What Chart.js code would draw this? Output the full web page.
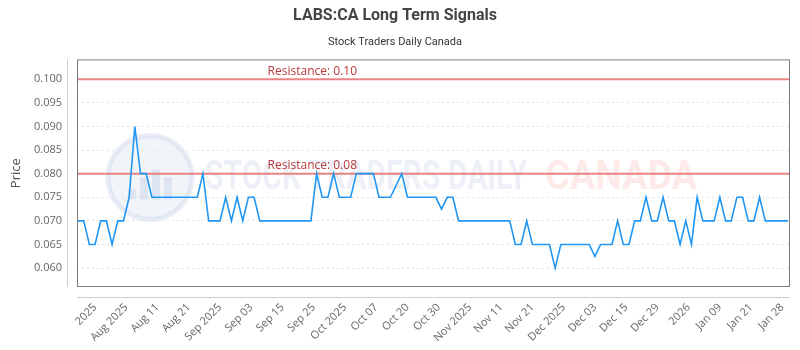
<!DOCTYPE html>
<html lang="en">
<head>
<meta charset="UTF-8">
<title>LABS:CA Long Term Signals</title>
<script src="https://cdn.jsdelivr.net/npm/chart.js"></script>
<style>
  html, body { margin: 0; padding: 0; background: #fff; }
  #wrap { width: 800px; height: 350px; }
</style>
</head>
<body>
<div id="wrap"><canvas id="signalChart"></canvas></div>
<script>
// daily closes, one per trading day
const prices = [
  0.070, 0.070, 0.065, 0.065, 0.070, 0.070, 0.065, 0.070, 0.070, 0.075,
  0.090, 0.080, 0.080, 0.075, 0.075, 0.075, 0.075, 0.075, 0.075, 0.075,
  0.075, 0.075, 0.080, 0.070, 0.070, 0.070, 0.075, 0.070, 0.075, 0.070,
  0.075, 0.075, 0.070, 0.070, 0.070, 0.070, 0.070, 0.070, 0.070, 0.070,
  0.070, 0.070, 0.080, 0.075, 0.075, 0.080, 0.075, 0.075, 0.075, 0.080,
  0.080, 0.080, 0.080, 0.075, 0.075, 0.075, 0.0775, 0.080, 0.075, 0.075,
  0.075, 0.075, 0.075, 0.075, 0.0725, 0.075, 0.075, 0.070, 0.070, 0.070,
  0.070, 0.070, 0.070, 0.070, 0.070, 0.070, 0.070, 0.065, 0.065, 0.070,
  0.065, 0.065, 0.065, 0.065, 0.060, 0.065, 0.065, 0.065, 0.065, 0.065,
  0.065, 0.0625, 0.065, 0.065, 0.065, 0.070, 0.065, 0.065, 0.070, 0.070,
  0.075, 0.070, 0.070, 0.075, 0.070, 0.070, 0.065, 0.070, 0.065, 0.075,
  0.070, 0.070, 0.070, 0.075, 0.070, 0.070, 0.075, 0.075, 0.070, 0.070,
  0.075, 0.070, 0.070, 0.070, 0.070, 0.070
];

const resistanceLevels = [0.10, 0.08];

// x tick labels and where they sit along the trading-day index
const xTickPos = [3, 8.5, 14, 19.5, 25, 30.5, 36, 41.5, 47, 52.5, 58, 63.5, 69, 74.5, 80, 85.5,
  91, 96.5, 102, 107.5, 113, 118.5, 124];
const xTickLabels = ['2025', 'Aug 2025', 'Aug 11', 'Aug 21', 'Sep 2025', 'Sep 03', 'Sep 15', 'Sep 25',
  'Oct 2025', 'Oct 07', 'Oct 20', 'Oct 30', 'Nov 2025', 'Nov 11', 'Nov 21', 'Dec 2025', 'Dec 03',
  'Dec 15', 'Dec 29', '2026', 'Jan 09', 'Jan 21', 'Jan 28'];

const yTicks = [0.060, 0.065, 0.070, 0.075, 0.080, 0.085, 0.090, 0.095, 0.100];

// extra drawing: watermark, resistance lines, plot frame
const decorPlugin = {
  id: 'decor',
  beforeDatasetsDraw(chart) {
    const { ctx, chartArea: a, scales: { y } } = chart;
    ctx.save();

    // watermark logo
    const cx = a.left + 73, cy = a.top + 118;
    ctx.beginPath();
    ctx.arc(cx, cy, 42, 0, Math.PI * 2);
    ctx.fillStyle = 'rgba(225,231,242,0.45)';
    ctx.fill();
    ctx.lineWidth = 5;
    ctx.strokeStyle = 'rgba(205,215,235,0.45)';
    ctx.stroke();
    ctx.fillStyle = 'rgba(200,210,232,0.45)';
    [[-22, 10], [-10, 22], [2, 30], [14, 22]].forEach(([dx, h]) => {
      ctx.fillRect(cx + dx, cy + 22 - h, 8, h);
    });

    // watermark text
    ctx.font = 'bold 40px "Liberation Sans Narrow", "Roboto", sans-serif';
    ctx.textBaseline = 'middle';
    ctx.textAlign = 'left';
    ctx.fillStyle = 'rgba(200,210,230,0.32)';
    ctx.fillText('STOCK TRADERS DAILY', a.left + 128, cy + 2, 322);
    ctx.fillStyle = 'rgba(255,160,160,0.22)';
    ctx.fillText('CANADA', a.left + 468, cy + 2, 152);

    // resistance levels
    resistanceLevels.forEach(v => {
      const py = y.getPixelForValue(v);
      ctx.beginPath();
      ctx.moveTo(a.left, py);
      ctx.lineTo(a.right, py);
      ctx.lineWidth = 2;
      ctx.strokeStyle = 'rgba(232,110,110,0.85)';
      ctx.stroke();
      ctx.font = '12px "Open Sans", sans-serif';
      ctx.fillStyle = '#b83a3a';
      ctx.textAlign = 'center';
      ctx.textBaseline = 'bottom';
      ctx.fillText('Resistance: ' + v.toFixed(2), a.left + a.width * 0.33, py - 2);
    });
    ctx.restore();
  },
  afterDraw(chart) {
    const { ctx, chartArea: a } = chart;
    ctx.save();
    ctx.lineWidth = 1;
    ctx.strokeStyle = '#7a7a7a';
    ctx.strokeRect(a.left + 0.5, a.top + 0.5, a.width - 1, a.height - 1);
    ctx.strokeStyle = '#cfcfcf';
    ctx.beginPath();
    ctx.moveTo(a.left - 9.5, a.top);
    ctx.lineTo(a.left - 9.5, a.bottom);
    ctx.moveTo(a.left, a.bottom + 10.5);
    ctx.lineTo(a.right, a.bottom + 10.5);
    ctx.stroke();
    ctx.restore();
  }
};

const ctx = document.getElementById('signalChart').getContext('2d');
const signalChart = new Chart(ctx, {
  type: 'line',
  data: {
    datasets: [{
      label: 'LABS:CA',
      data: prices.map((p, i) => ({ x: i, y: p })),
      borderColor: '#2196f3',
      borderWidth: 1.6,
      pointRadius: 0,
      tension: 0,
      fill: false
    }]
  },
  options: {
    responsive: true,
    maintainAspectRatio: false,
    animation: false,
    layout: { padding: { left: 0, right: 10, top: 0, bottom: 0 } },
    plugins: {
      legend: { display: false },
      tooltip: { enabled: false },
      title: {
        display: true,
        text: 'LABS:CA Long Term Signals',
        color: '#444',
        font: { family: 'Roboto', size: 16, weight: 'bold' },
        padding: { top: 6, bottom: 10 }
      },
      subtitle: {
        display: true,
        text: 'Stock Traders Daily Canada',
        color: '#333',
        font: { family: 'Roboto', size: 11 },
        padding: { top: 0, bottom: 11 }
      }
    },
    scales: {
      x: {
        type: 'linear',
        min: -0.18,
        max: 125.35,
        grid: { display: false, drawTicks: false },
        border: { display: false },
        afterBuildTicks: s => { s.ticks = xTickPos.map(v => ({ value: v })); },
        afterFit: s => {
          s.height = 63;
          // keep the plot full width; labels may run into the right margin
          s.paddingLeft = 0;
          s.paddingRight = 0;
        },
        ticks: {
          autoSkip: false,
          minRotation: 45,
          maxRotation: 45,
          padding: 14,
          color: '#666',
          font: { family: 'Open Sans', size: 11 },
          callback: v => xTickLabels[xTickPos.indexOf(v)]
        }
      },
      y: {
        min: 0.056,
        max: 0.1042,
        grid: { color: '#e3e3e3', drawTicks: false },
        border: { display: false, dash: [2, 3] },
        afterBuildTicks: s => { s.ticks = yTicks.map(v => ({ value: v })); },
        afterFit: s => { s.width = 77; },
        ticks: {
          padding: 15,
          color: '#666',
          font: { family: 'Open Sans', size: 11 },
          callback: v => v.toFixed(3)
        },
        title: {
          display: true,
          text: 'Price',
          color: '#555',
          font: { family: 'Open Sans', size: 13 },
          padding: { top: 8, bottom: 0 }
        }
      }
    }
  },
  plugins: [decorPlugin]
});
</script>
</body>
</html>
